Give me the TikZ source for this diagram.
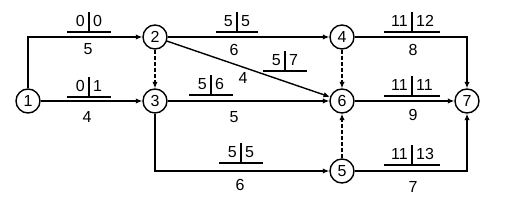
\documentclass[tikz,border=0pt]{standalone}
\usepackage{fontspec}
\setmainfont{Liberation Sans}
\usetikzlibrary{arrows.meta}
\newcommand\flab[6]{%
 \draw[barline] ({#2-#4},#3) -- ({#2+#4},#3);
 \draw[barline] (#2,#3) -- (#2,{#3-20});
 \node[txt,anchor=base east] (#1a) at ({#2-4},{#3-5}) {#5};
 \node[txt,anchor=base west] (#1b) at ({#2+4},{#3-5}) {#6};}
\begin{document}
\begin{tikzpicture}[x=1pt,y=-1pt,
  ev/.style={circle,draw,line width=1.4pt,minimum size=24pt,inner sep=0pt,font=\fontsize{16}{19}\selectfont},
  act/.style={line width=1.4pt,-{Latex[length=6.5pt,width=5.5pt]}},
  dum/.style={act,dash pattern=on 4pt off 2pt},
  txt/.style={inner sep=0pt,font=\fontsize{16}{19}\selectfont},
  barline/.style={line width=1.4pt}]
\useasboundingbox (0,0) rectangle (511,200);
\node[ev] (n1) at (28,101) {1};
\node[ev] (n2) at (155,37) {2};
\node[ev] (n3) at (155,101) {3};
\node[ev] (n4) at (342,37) {4};
\node[ev] (n6) at (342,101) {6};
\node[ev] (n5) at (342,171) {5};
\node[ev] (n7) at (467,101) {7};
% activities
\draw[act] (n1.north) |- (n2.west);
\draw[act] (n1) -- (n3);
\draw[act] (n2) -- (n4);
\draw[act] (n2) -- (n6);
\draw[act] (n3) -- (n6);
\draw[act] (n3.south) |- (n5.west);
\draw[act] (n4.east) -| (n7.north);
\draw[act] (n6) -- (n7);
\draw[act] (n5.east) -| (n7.south);
% dummies
\draw[dum] (n2) -- (n3);
\draw[dum] (n4) -- (n6);
\draw[dum] (n5) -- (n6);
% labels
\flab{l12}{89}{32}{22}{0}{0}
\node[txt] (d12) at (88,49) {5};
\flab{l13}{89}{97}{22}{0}{1}
\node[txt] (d13) at (87,117) {4};
\flab{l24}{237}{32}{21}{5}{5}
\node[txt] (d24) at (234,50) {6};
\flab{l26}{285}{71}{22}{5}{7}
\node[txt] (d26) at (243,78) {4};
\flab{l36}{211}{95}{22}{5}{6}
\node[txt] (d36) at (234,117) {5};
\flab{l35}{241}{163}{22}{5}{5}
\node[txt] (d35) at (240,185) {6};
\flab{l47}{412}{32}{28}{11}{12}
\node[txt] (d47) at (413,50) {8};
\flab{l67}{412}{96}{28}{11}{11}
\node[txt] (d67) at (413,115) {9};
\flab{l57}{412}{165}{28}{11}{13}
\node[txt] (d57) at (413,187) {7};
\end{tikzpicture}
\end{document}
